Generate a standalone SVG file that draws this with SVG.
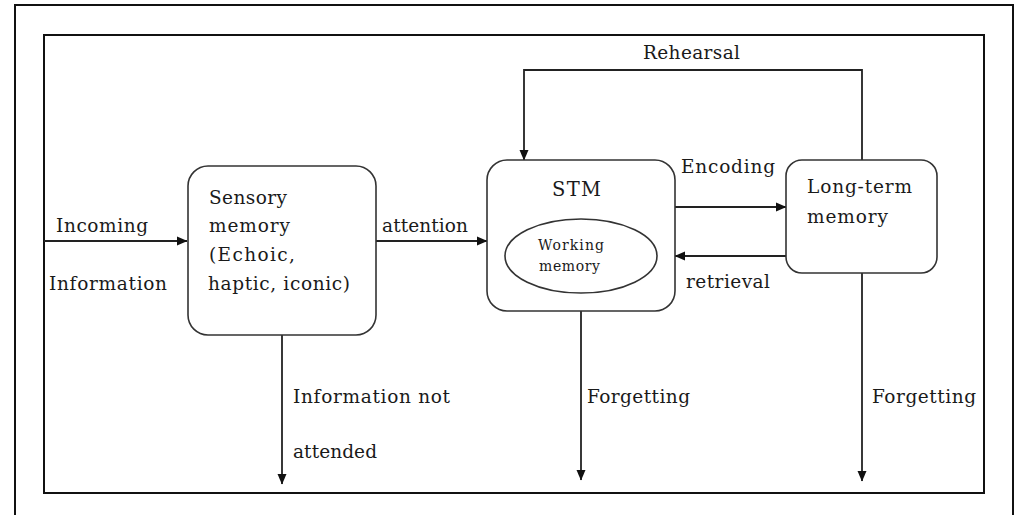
<svg xmlns="http://www.w3.org/2000/svg" width="1017" height="515" viewBox="0 0 1017 515">
<style>
text{font-family:"DejaVu Serif","Liberation Serif",serif;font-size:18.5px;fill:#1a1a1a}
.box{fill:#fff;stroke:#333;stroke-width:1.6}
.ln{fill:none;stroke:#222;stroke-width:1.8}
.frame{fill:none;stroke:#111;stroke-width:2}
.small{font-size:14px}
.big{font-size:19.5px}
</style>
<defs>
<marker id="ah" markerWidth="11" markerHeight="10" refX="10" refY="5" orient="auto" markerUnits="userSpaceOnUse">
<path d="M0,0.5 L10.5,5 L0,9.5 z" fill="#111"/>
</marker>
</defs>
<rect width="1017" height="515" fill="#fff"/>
<rect class="frame" x="15" y="5" width="998" height="530"/>
<rect class="frame" x="44" y="35" width="940" height="458"/>
<g id="connectors">
<line class="ln" x1="44" y1="241" x2="187" y2="241" marker-end="url(#ah)"/>
<line class="ln" x1="376" y1="241" x2="487" y2="241" marker-end="url(#ah)"/>
<line class="ln" x1="675" y1="207" x2="786" y2="207" marker-end="url(#ah)"/>
<line class="ln" x1="786" y1="256" x2="675" y2="256" marker-end="url(#ah)"/>
<polyline class="ln" points="862,160 862,70 524,70 524,160" marker-end="url(#ah)"/>
<line class="ln" x1="282" y1="335" x2="282" y2="484" marker-end="url(#ah)"/>
<line class="ln" x1="581" y1="311" x2="581" y2="480" marker-end="url(#ah)"/>
<line class="ln" x1="862" y1="273" x2="862" y2="481" marker-end="url(#ah)"/>
<text x="643" y="59" textLength="97">Rehearsal</text>
<text x="56" y="232" textLength="92">Incoming</text>
<text x="49" y="290" textLength="118">Information</text>
<text x="382" y="232" textLength="86">attention</text>
<text x="681" y="173" textLength="94">Encoding</text>
<text x="686" y="288" textLength="84">retrieval</text>
<text x="293" y="403" textLength="157">Information not</text>
<text x="293" y="458" textLength="84">attended</text>
<text x="587" y="403" textLength="103">Forgetting</text>
<text x="872" y="403" textLength="104">Forgetting</text>
</g>
<g id="sensory">
<rect class="box" x="188" y="166" width="188" height="169" rx="20"/>
<text x="209" y="204" textLength="78">Sensory</text>
<text x="209" y="232" textLength="81">memory</text>
<text x="209" y="261" textLength="86">(Echoic,</text>
<text x="208" y="290" textLength="142">haptic, iconic)</text>
</g>
<g id="stm">
<rect class="box" x="487" y="160" width="188" height="151" rx="20"/>
<text class="big" x="552" y="196" textLength="49">STM</text>
<g id="working">
<ellipse class="box" cx="581" cy="256" rx="76" ry="37"/>
<text class="small" x="538" y="250" textLength="66">Working</text>
<text class="small" x="539" y="271" textLength="61">memory</text>
</g>
</g>
<g id="ltm">
<rect class="box" x="786" y="160" width="151" height="113" rx="16"/>
<text x="807" y="193" textLength="105">Long-term</text>
<text x="807" y="223" textLength="81">memory</text>
</g>
</svg>
